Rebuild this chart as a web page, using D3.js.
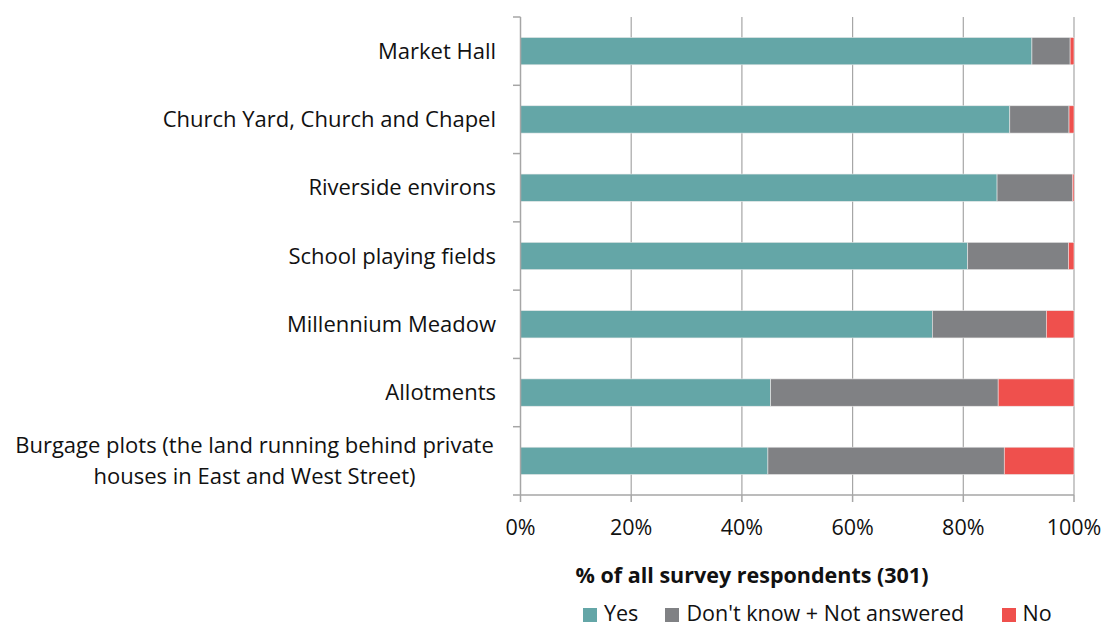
<!DOCTYPE html>
<html><head><meta charset="utf-8">
<script src="https://cdn.jsdelivr.net/npm/d3@7"></script>
<style>body{margin:0;background:#fff}svg{display:block}text{font-family:"Open Sans",sans-serif;fill:#111}</style>
</head><body><svg id="c" width="1105" height="626"></svg>
<script>
const categories = ["Market Hall","Church Yard, Church and Chapel","Riverside environs","School playing fields","Millennium Meadow","Allotments","Burgage plots (the land running behind private houses in East and West Street)"];
const labelLines = [["Market Hall"],["Church Yard, Church and Chapel"],["Riverside environs"],["School playing fields"],["Millennium Meadow"],["Allotments"],["Burgage plots (the land running behind private","houses in East and West Street)"]];
const seriesNames = ["Yes","Don't know + Not answered","No"];
const yes = [92.4, 88.4, 86.1, 80.8, 74.4, 45.2, 44.7];
const dontKnow = [6.9, 10.7, 13.6, 18.2, 20.6, 41.1, 42.7];
const no = [0.7, 0.9, 0.3, 1.0, 5.0, 13.7, 12.6];
const tickValues = [0,20,40,60,80,100];
const colors = ["#64A6A7","#808184","#EF504D"];

const svg = d3.select("#c");
const x = d3.scaleLinear().domain([0,100]).range([520.5,1074]);
const y = d3.scaleBand().domain(categories).range([17,495]).paddingInner(0.6).paddingOuter(0.3);
const yOuter = d3.scaleBand().domain(categories).range([17,495]);

const rows = categories.map((c,i)=>({cat:c, Yes:yes[i], "Don't know + Not answered":dontKnow[i], No:no[i]}));
const stack = d3.stack().keys(seriesNames)(rows);

svg.append("g").selectAll("line").data(tickValues.slice(1)).join("line")
  .attr("x1",d=>x(d)).attr("x2",d=>x(d)).attr("y1",17).attr("y2",495)
  .attr("stroke","#a6a6a6").attr("stroke-width",1.2);

svg.append("g").selectAll("g").data(stack).join("g").attr("fill",(d,i)=>colors[i])
  .selectAll("rect").data(d=>d).join("rect")
  .attr("x",d=>x(d[0])).attr("width",d=>x(d[1])-x(d[0]))
  .attr("y",d=>y(d.data.cat)).attr("height",y.bandwidth())
  .attr("stroke","#e8e8e8").attr("stroke-width",0.6);

const ya = svg.append("g");
ya.append("line").attr("x1",520.5).attr("x2",520.5).attr("y1",17).attr("y2",495).attr("stroke","#a6a6a6").attr("stroke-width",1.5);
const bounds = categories.map(c=>yOuter(c)).concat([495]);
ya.selectAll("line.t").data(bounds).join("line").attr("class","t")
  .attr("x1",513).attr("x2",520.5).attr("y1",d=>d).attr("y2",d=>d).attr("stroke","#a6a6a6").attr("stroke-width",1.5);

const lbl = svg.append("g").selectAll("text").data(categories).join("text")
  .attr("text-anchor","middle").attr("font-size",22);
lbl.each(function(c,i){
  const lines = labelLines[i];
  const cy = yOuter(c)+yOuter.bandwidth()/2;
  const t = d3.select(this);
  lines.forEach((ln,j)=>{
    t.append("tspan").attr("x", lines.length>1?254.5:null).attr("y", cy + (j-(lines.length-1)/2)*31 + 7.5).text(ln);
  });
  if(lines.length===1) t.attr("text-anchor","end").selectAll("tspan").attr("x",496);
});

const xa = svg.append("g");
xa.append("line").attr("x1",520.5).attr("x2",1074).attr("y1",495).attr("y2",495).attr("stroke","#a6a6a6").attr("stroke-width",1.5);
xa.selectAll("line.t").data(tickValues).join("line").attr("class","t")
  .attr("x1",d=>x(d)).attr("x2",d=>x(d)).attr("y1",495).attr("y2",502).attr("stroke","#a6a6a6").attr("stroke-width",1.5);
xa.selectAll("text").data(tickValues).join("text")
  .attr("x",d=>x(d)).attr("y",535).attr("text-anchor","middle").attr("font-size",21.5).text(d=>d+"%");

svg.append("text").attr("x",752).attr("y",583).attr("text-anchor","middle").attr("font-size",21.5).attr("font-weight","bold").text("% of all survey respondents (301)");

const legX = [583, 665, 1002];
const lg = svg.append("g").selectAll("g").data(seriesNames).join("g").attr("transform",(d,i)=>`translate(${legX[i]},608)`);
lg.append("rect").attr("width",14).attr("height",14).attr("fill",(d,i)=>colors[i]);
lg.append("text").attr("x",(d,i)=>[21,21.5,20.5][i]).attr("y",12.5).attr("font-size",21.5).text(d=>d);
</script></body></html>
